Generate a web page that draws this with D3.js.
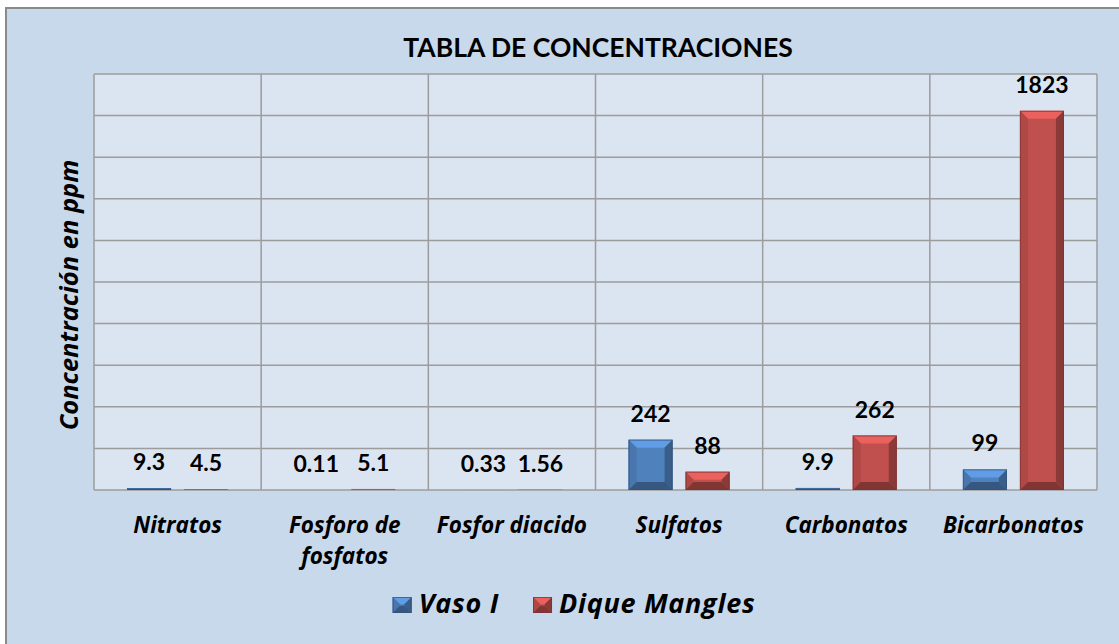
<!DOCTYPE html>
<html>
<head>
<meta charset="utf-8">
<script src="https://cdn.jsdelivr.net/npm/d3@7"></script>
<style>
  html, body { margin: 0; padding: 0; background: #ffffff; }
  svg { display: block; }
  text { font-family: Lato, "Open Sans", "DejaVu Sans", sans-serif; fill: #000; }
  .it { font-family: "Open Sans", Lato, "DejaVu Sans", sans-serif; font-style: italic; font-weight: 700; }
</style>
</head>
<body>
<svg id="chart" width="1119" height="644"></svg>
<script>
// Concentrations (ppm) per parameter for the two sampling sites
const categories = ["Nitratos", "Fosforo de\nfosfatos", "Fosfor diacido", "Sulfatos", "Carbonatos", "Bicarbonatos"];
const seriesNames = ["Vaso I", "Dique Mangles"];
const vasoI = [9.3, 0.11, 0.33, 242, 9.9, 99];
const diqueMangles = [4.5, 5.1, 1.56, 88, 262, 1823];
const yTicks = [0, 200, 400, 600, 800, 1000, 1200, 1400, 1600, 1800, 2000];
const seriesColors = ["#4F81BD", "#C0504D"];

const svg = d3.select("#chart");
const W = 1119, H = 644;
const plot = { left: 94, right: 1097, top: 74, bottom: 490 };

// Chart frame
svg.append("rect")
  .attr("x", 6).attr("y", 8)
  .attr("width", W + 20).attr("height", H + 20)
  .attr("fill", "#C9D9EC")
  .attr("stroke", "#8A8A8A").attr("stroke-width", 2);

// Scales
const x = d3.scaleBand().domain(categories).range([plot.left, plot.right]);
const xs = d3.scaleBand().domain(seriesNames).range([0, x.bandwidth()])
  .paddingInner(0.228).paddingOuter(0.58);
const y = d3.scaleLinear().domain([0, 2000]).range([plot.bottom, plot.top]);
const color = d3.scaleOrdinal().domain(seriesNames).range(seriesColors);

// Plot area
svg.append("rect")
  .attr("x", plot.left).attr("y", plot.top)
  .attr("width", plot.right - plot.left).attr("height", plot.bottom - plot.top)
  .attr("fill", "#DBE5F1");

// Gridlines
const grid = svg.append("g").attr("stroke", "#9C9C9C").attr("stroke-width", 1.5);
grid.selectAll("line.h").data(yTicks).join("line")
  .attr("class", "h")
  .attr("x1", plot.left).attr("x2", plot.right)
  .attr("y1", d => y(d)).attr("y2", d => y(d));
const bounds = categories.map(c => x(c)).concat([plot.right]);
grid.selectAll("line.v").data(bounds).join("line")
  .attr("class", "v")
  .attr("x1", d => d).attr("x2", d => d)
  .attr("y1", plot.top).attr("y2", plot.bottom);

// Bevelled bar: front face with lighter top edge and darker sides/bottom
function bevelBar(g, x0, y0, w, h, base) {
  const c = d3.color(base);
  const b = Math.max(0, Math.min(8, h / 2.2, w / 2.2));
  const x1 = x0 + w, y1 = y0 + h;
  g.append("rect").attr("x", x0).attr("y", y0).attr("width", w).attr("height", h)
    .attr("fill", c.formatHex());
  if (h < 1.2) return;
  const poly = (pts, fill) => g.append("polygon")
    .attr("points", pts.map(p => p.join(",")).join(" ")).attr("fill", fill);
  // top
  poly([[x0, y0], [x1, y0], [x1 - b, y0 + b], [x0 + b, y0 + b]], c.brighter(0.55).formatHex());
  // left
  poly([[x0, y0], [x0 + b, y0 + b], [x0 + b, y1 - b], [x0, y1]], c.darker(0.25).formatHex());
  // right
  poly([[x1, y0], [x1, y1], [x1 - b, y1 - b], [x1 - b, y0 + b]], c.darker(0.9).formatHex());
  // bottom
  poly([[x0, y1], [x0 + b, y1 - b], [x1 - b, y1 - b], [x1, y1]], c.darker(1.1).formatHex());
  g.append("rect").attr("x", x0 + 0.5).attr("y", y0 + 0.5)
    .attr("width", Math.max(0, w - 1)).attr("height", Math.max(0, h - 1))
    .attr("fill", "none").attr("stroke", c.darker(1.3).formatHex()).attr("stroke-width", 1)
    .attr("stroke-opacity", 0.7);
}

const rows = categories.map((c, i) => ({ cat: c, values: [vasoI[i], diqueMangles[i]] }));
const bars = svg.append("g");
rows.forEach(r => {
  r.values.forEach((v, j) => {
    const s = seriesNames[j];
    const bx = x(r.cat) + xs(s);
    const by = y(v);
    bevelBar(bars.append("g"), bx, by, xs.bandwidth(), plot.bottom - by, color(s));
  });
});

// Value labels
const labels = svg.append("g")
  .attr("font-size", 23).attr("font-weight", 700).attr("text-anchor", "middle");
rows.forEach(r => {
  r.values.forEach((v, j) => {
    const s = seriesNames[j];
    labels.append("text")
      .attr("x", x(r.cat) + xs(s) + xs.bandwidth() / 2)
      .attr("y", y(v) - 18)
      .text(String(v));
  });
});

// Category labels
const catG = svg.append("g").attr("class", "it")
  .attr("font-size", 22.5).attr("text-anchor", "middle");
categories.forEach(c => {
  const t = catG.append("text").attr("class", "it").attr("x", x(c) + x.bandwidth() / 2).attr("y", 533);
  c.split("\n").forEach((line, k) => {
    t.append("tspan").attr("x", x(c) + x.bandwidth() / 2).attr("dy", k === 0 ? 0 : 31).text(line);
  });
});

// Title
svg.append("text")
  .attr("x", 598).attr("y", 57)
  .attr("text-anchor", "middle").attr("font-size", 26.5).attr("font-weight", 700)
  .text("TABLA DE CONCENTRACIONES");

// Y axis title
svg.append("text").attr("class", "it")
  .attr("transform", "translate(78,295) rotate(-90)")
  .attr("text-anchor", "middle").attr("font-size", 25.5)
  .text("Concentración en ppm");

// Legend
const legend = svg.append("g");
let lx = 0;
seriesNames.forEach(s => {
  const g = legend.append("g").attr("transform", `translate(${lx},0)`);
  bevelBar(g.append("g"), 0, -16, 19, 16, color(s));
  const t = g.append("text").attr("class", "it").attr("font-size", 27)
    .attr("letter-spacing", 0.7)
    .attr("x", 26).attr("y", 0).text(s);
  const w = 26 + t.node().getComputedTextLength();
  lx += w + 34;
});
const legendW = lx - 34;
legend.attr("transform", `translate(${574 - legendW / 2},613)`);
</script>
</body>
</html>
